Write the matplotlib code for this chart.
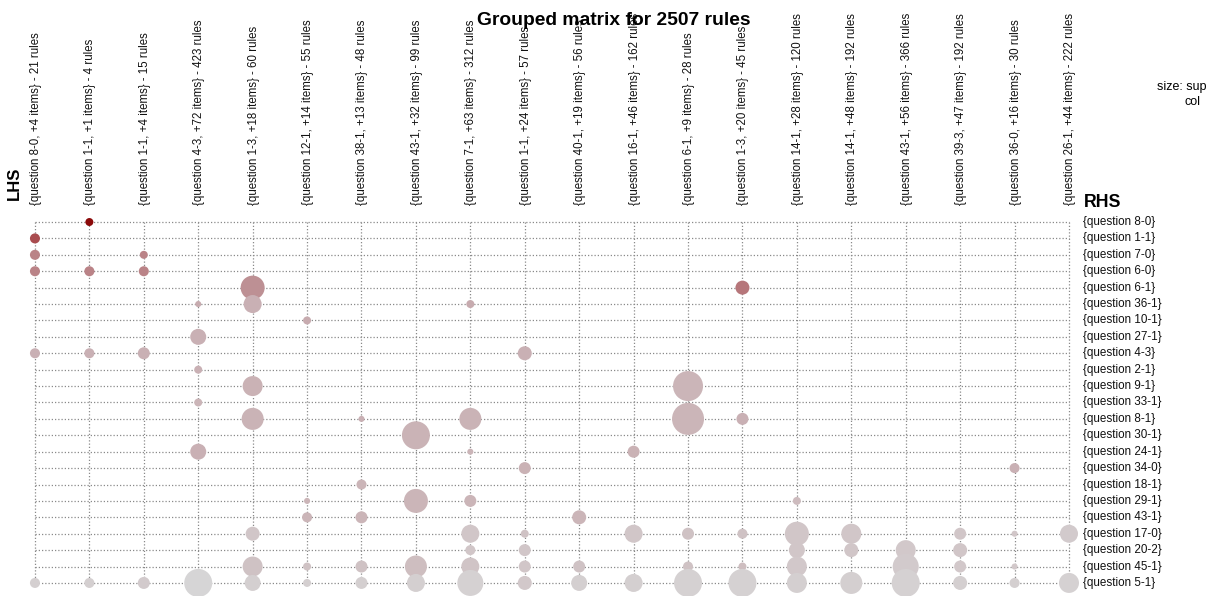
import matplotlib

matplotlib.use("Agg")
import matplotlib.pyplot as plt
from matplotlib.colors import LinearSegmentedColormap, Normalize

plt.rcParams["font.family"] = ["Liberation Sans", "DejaVu Sans"]

# LHS groups (columns) and RHS items (rows)
lhs_labels = [
    "{question 8-0, +4 items} - 21 rules",
    "{question 1-1, +1 items} - 4 rules",
    "{question 1-1, +4 items} - 15 rules",
    "{question 4-3, +72 items} - 423 rules",
    "{question 1-3, +18 items} - 60 rules",
    "{question 12-1, +14 items} - 55 rules",
    "{question 38-1, +13 items} - 48 rules",
    "{question 43-1, +32 items} - 99 rules",
    "{question 7-1, +63 items} - 312 rules",
    "{question 1-1, +24 items} - 57 rules",
    "{question 40-1, +19 items} - 56 rules",
    "{question 16-1, +46 items} - 162 rules",
    "{question 6-1, +9 items} - 28 rules",
    "{question 1-3, +20 items} - 45 rules",
    "{question 14-1, +28 items} - 120 rules",
    "{question 14-1, +48 items} - 192 rules",
    "{question 43-1, +56 items} - 366 rules",
    "{question 39-3, +47 items} - 192 rules",
    "{question 36-0, +16 items} - 30 rules",
    "{question 26-1, +44 items} - 222 rules",
]
rhs_labels = [
    "{question 8-0}", "{question 1-1}", "{question 7-0}", "{question 6-0}",
    "{question 6-1}", "{question 36-1}", "{question 10-1}", "{question 27-1}",
    "{question 4-3}", "{question 2-1}", "{question 9-1}", "{question 33-1}",
    "{question 8-1}", "{question 30-1}", "{question 24-1}", "{question 34-0}",
    "{question 18-1}", "{question 29-1}", "{question 43-1}", "{question 17-0}",
    "{question 20-2}", "{question 45-1}", "{question 5-1}",
]

# one entry per dot: LHS group (1-based), RHS item (1-based), support, lift
dot_lhs = [1, 1, 1, 1, 1,
           2, 2, 2, 2,
           3, 3, 3, 3,
           4, 4, 4, 4, 4, 4,
           5, 5, 5, 5, 5, 5, 5,
           6, 6, 6, 6, 6,
           7, 7, 7, 7, 7,
           8, 8, 8, 8,
           9, 9, 9, 9, 9, 9, 9, 9,
           10, 10, 10, 10, 10, 10,
           11, 11, 11,
           12, 12, 12,
           13, 13, 13, 13, 13,
           14, 14, 14, 14, 14,
           15, 15, 15, 15, 15,
           16, 16, 16,
           17, 17, 17,
           18, 18, 18, 18,
           19, 19, 19, 19,
           20, 20]
dot_rhs = [2, 3, 4, 9, 23,
           1, 4, 9, 23,
           3, 4, 9, 23,
           6, 8, 10, 12, 15, 23,
           5, 6, 11, 13, 20, 22, 23,
           7, 18, 19, 22, 23,
           13, 17, 19, 22, 23,
           14, 18, 22, 23,
           6, 13, 15, 18, 20, 21, 22, 23,
           9, 16, 20, 21, 22, 23,
           19, 22, 23,
           15, 20, 23,
           11, 13, 20, 22, 23,
           5, 13, 20, 22, 23,
           18, 20, 21, 22, 23,
           20, 21, 23,
           21, 22, 23,
           20, 21, 22, 23,
           16, 20, 22, 23,
           20, 23]
dot_support = [0.0063, 0.0063, 0.0063, 0.0063, 0.0063,
               0.0040, 0.0063, 0.0063, 0.0063,
               0.0040, 0.0063, 0.0090, 0.0090,
               0.0023, 0.0160, 0.0040, 0.0040, 0.0160, 0.0490,
               0.0360, 0.0203, 0.0250, 0.0303, 0.0123, 0.0250, 0.0160,
               0.0040, 0.0023, 0.0063, 0.0040, 0.0040,
               0.0023, 0.0063, 0.0090, 0.0090, 0.0090,
               0.0490, 0.0360, 0.0303, 0.0203,
               0.0040, 0.0303, 0.0023, 0.0090, 0.0203, 0.0063, 0.0203, 0.0423,
               0.0123, 0.0090, 0.0040, 0.0090, 0.0090, 0.0123,
               0.0123, 0.0090, 0.0160,
               0.0090, 0.0203, 0.0203,
               0.0563, 0.0640, 0.0090, 0.0063, 0.0490,
               0.0123, 0.0090, 0.0063, 0.0040, 0.0490,
               0.0040, 0.0360, 0.0160, 0.0250, 0.0250,
               0.0250, 0.0123, 0.0303,
               0.0250, 0.0423, 0.0490,
               0.0090, 0.0123, 0.0090, 0.0123,
               0.0063, 0.0023, 0.0023, 0.0063,
               0.0203, 0.0250]
dot_lift = [3.4, 2.8, 2.8, 1.9, 1.15,
            4.0, 2.8, 1.9, 1.15,
            2.8, 2.8, 1.9, 1.25,
            2.05, 1.9, 1.9, 1.75, 1.9, 1.0,
            2.65, 1.9, 1.85, 1.8, 1.35, 1.45, 1.15,
            2.05, 1.75, 1.75, 1.45, 1.15,
            1.9, 1.75, 1.75, 1.45, 1.15,
            1.8, 1.75, 1.55, 1.15,
            2.05, 1.8, 1.75, 1.75, 1.35, 1.35, 1.4, 1.1,
            1.9, 1.85, 1.45, 1.35, 1.35, 1.3,
            1.75, 1.45, 1.15,
            1.85, 1.35, 1.15,
            1.75, 1.75, 1.45, 1.45, 1.1,
            2.95, 1.9, 1.45, 1.55, 1.1,
            1.6, 1.35, 1.35, 1.3, 1.15,
            1.35, 1.35, 1.15,
            1.3, 1.25, 1.1,
            1.35, 1.35, 1.3, 1.15,
            1.9, 1.35, 1.3, 1.15,
            1.25, 1.1]

lift_cmap = LinearSegmentedColormap.from_list(
    "lift", ["#D6D5D6", "#CBB5B8", "#C09DA1", "#B05C60", "#8B0A0A"])

fig = plt.figure(figsize=(12.11, 5.96), dpi=100)
ax = fig.add_axes([0.0019, 0.0054, 0.9078, 0.6386])
n_lhs, n_rhs = len(lhs_labels), len(rhs_labels)
ax.set_xlim(0.4, n_lhs + 0.6)
ax.set_ylim(n_rhs + 0.6, 0.4)
ax.axis("off")

grid = dict(colors="#8a8a8a", linestyles=(0, (1, 1.6)), linewidth=0.9, zorder=1)
ax.hlines(range(1, n_rhs + 1), 1, n_lhs, **grid)
ax.vlines(range(1, n_lhs + 1), 1, n_rhs, **grid)

ax.scatter(dot_lhs, dot_rhs, s=[v * 8300 for v in dot_support], c=dot_lift,
           cmap=lift_cmap, norm=Normalize(min(dot_lift), max(dot_lift)),
           linewidths=0, zorder=2, clip_on=False)

# column labels, rotated, bottom-aligned just above the grid
for i, lab in enumerate(lhs_labels, start=1):
    ax.annotate(lab, (i, 1), xytext=(1, 17), textcoords="offset pixels",
                rotation=90, ha="center", va="bottom", fontsize=8.3,
                color="#111111", annotation_clip=False)

for j, lab in enumerate(rhs_labels, start=1):
    ax.annotate(lab, (n_lhs, j), xytext=(14, 0), textcoords="offset pixels",
                ha="left", va="center", fontsize=8.4, color="#111111",
                annotation_clip=False)

fig.text(0.507, 0.966, "Grouped matrix for 2507 rules", ha="center",
         va="center", fontsize=13.9, fontweight="bold")
fig.text(0.006, 0.665, "LHS", rotation=90, ha="left", va="bottom",
         fontsize=12, fontweight="bold")
fig.text(0.895, 0.646, "RHS", ha="left", va="bottom",
         fontsize=12.8, fontweight="bold")
# the legend text is cut off at the right edge of the source image
fig.text(0.955, 0.854, "size: sup", ha="left", va="center", fontsize=9)
fig.text(0.978, 0.829, "col", ha="left", va="center", fontsize=9)

fig.savefig("out.png", dpi=100)
